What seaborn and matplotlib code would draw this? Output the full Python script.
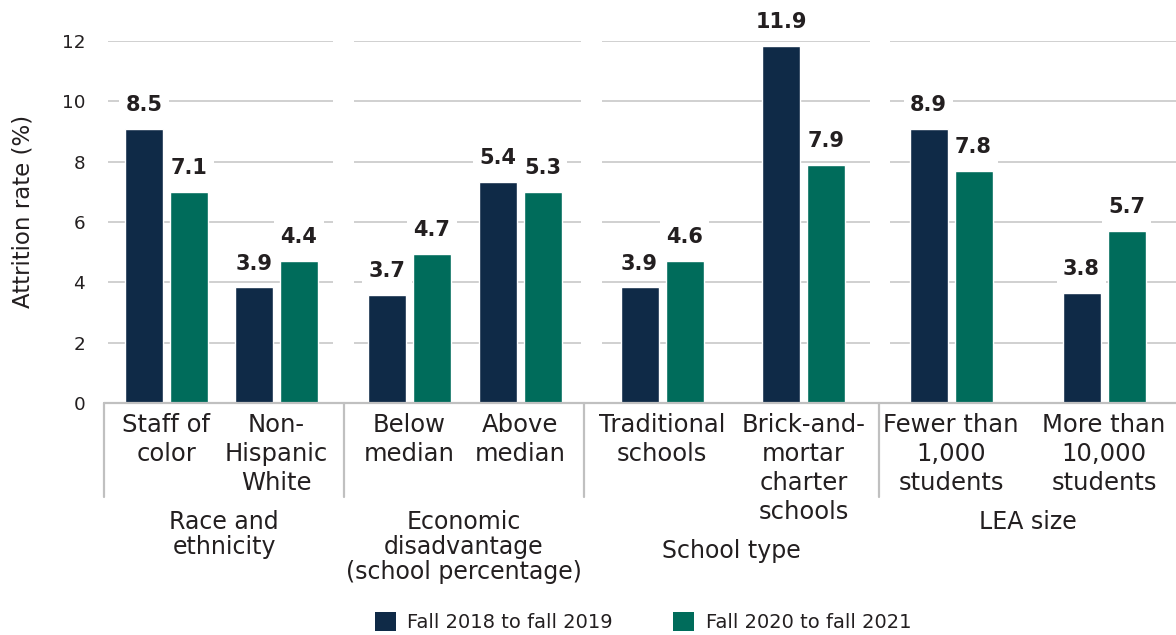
import pandas as pd
import seaborn as sns
import matplotlib.pyplot as plt
from matplotlib.lines import Line2D
from matplotlib.patches import Patch

# ==========================================
# Data
# ==========================================
groups = ["Race and\nethnicity",
          "Economic\ndisadvantage\n(school percentage)",
          "School type",
          "LEA size"]
categories = [["Staff of\ncolor", "Non-\nHispanic\nWhite"],
              ["Below\nmedian", "Above\nmedian"],
              ["Traditional\nschools", "Brick-and-\nmortar\ncharter\nschools"],
              ["Fewer than\n1,000\nstudents", "More than\n10,000\nstudents"]]
periods = ["Fall 2018 to fall 2019", "Fall 2020 to fall 2021"]

# bar heights as drawn in the picture
height_2018 = [9.08, 3.83, 3.57, 7.33, 3.83, 11.84, 9.08, 3.64]
height_2020 = [6.99, 4.70, 4.94, 6.99, 4.70, 7.89, 7.69, 5.69]
# value labels printed above the bars
label_2018 = ["8.5", "3.9", "3.7", "5.4", "3.9", "11.9", "8.9", "3.8"]
label_2020 = ["7.1", "4.4", "4.7", "5.3", "4.6", "7.9", "7.8", "5.7"]

colors = ["#0f2a47", "#006c5b"]
TEXT = "#231f20"

rows = []
flat_cats = [c for g in categories for c in g]
for i, cat in enumerate(flat_cats):
    g = groups[i // 2]
    rows.append((g, cat, periods[0], height_2018[i], label_2018[i]))
    rows.append((g, cat, periods[1], height_2020[i], label_2020[i]))
df = pd.DataFrame(rows, columns=["group", "category", "period", "value", "label"])

# ==========================================
# Layout (pixels of a 1176x635 canvas)
# ==========================================
W, H = 1176, 635
Y0, Y12 = 403, 41
axes_px = [(108, 333), (354, 581), (602, 870), (890, 1176)]
pair_px = [(166.5, 276.5), (409.5, 520), (662, 803.5), (951, 1104)]
seps_px = [104, 344, 584, 879]
BAR_PX, OFF_PX = 38, 22.5
LINE_PX = 29


def fx(x):
    return x / W


def fy(y):
    return 1 - y / H


sns.set_theme(style="white")
plt.rcParams['font.family'] = ['DejaVu Sans']

fig = plt.figure(figsize=(W / 100, H / 100), dpi=100)

for gi, group in enumerate(groups):
    L, R = axes_px[gi]
    c0, c1 = pair_px[gi]
    unit = c1 - c0
    ax = fig.add_axes([fx(L), fy(Y0), (R - L) / W, (Y0 - Y12) / H])
    sub = df[df["group"] == group]
    sns.barplot(data=sub, x="category", y="value", hue="period",
                order=categories[gi], hue_order=periods, palette=colors,
                saturation=1, width=4 * OFF_PX / unit,
                gap=1 - BAR_PX / (2 * OFF_PX), legend=False, ax=ax)
    ax.set_xlim(-(c0 - L) / unit, (R - c0) / unit)
    ax.set_ylim(0, 12)
    ax.set_yticks(range(0, 13, 2))
    ax.set_axisbelow(True)
    ax.yaxis.grid(True, color="#c4c4c4", linewidth=1.1)
    ax.xaxis.grid(False)
    for s in ax.spines.values():
        s.set_visible(False)
    ax.set_xlabel("")
    ax.set_ylabel("")
    ax.tick_params(axis="x", length=0, pad=7, labelsize=17.5, labelcolor=TEXT)
    plt.setp(ax.get_xticklabels(), linespacing=1.26)
    if gi == 0:
        ax.tick_params(axis="y", length=0, pad=16.5, labelsize=13.2, labelcolor=TEXT)
    else:
        ax.tick_params(axis="y", length=0, labelleft=False)

    for cont, per in zip(ax.containers, periods):
        labs = [sub[(sub["category"] == c) & (sub["period"] == per)]["label"].iloc[0]
                for c in categories[gi]]
        ax.bar_label(cont, labels=labs, padding=10, fontsize=15, fontweight="bold",
                     color=TEXT,
                     bbox=dict(boxstyle="square,pad=0.3", fc="white", ec="none"))

    # group label sits under the separators, or under a taller label stack
    nlines = max(3, max(c.count("\n") + 1 for c in categories[gi]))
    left_sep = seps_px[gi]
    right_sep = seps_px[gi + 1] if gi + 1 < len(seps_px) else W
    fig.text(fx((left_sep + right_sep) / 2), fy(409 + nlines * LINE_PX + 14),
             group, ha="center", va="top", fontsize=17, color=TEXT,
             linespacing=1.05)

# baseline and group separators
fig.add_artist(Line2D([fx(104), fx(W)], [fy(Y0), fy(Y0)], color="#c0c0c0",
                      linewidth=1.6, transform=fig.transFigure))
for x in seps_px:
    fig.add_artist(Line2D([fx(x), fx(x)], [fy(Y0), fy(497)], color="#c0c0c0",
                          linewidth=1.6, transform=fig.transFigure))

fig.text(fx(23), fy(211), "Attrition rate (%)", rotation=90, ha="center",
         va="center", fontsize=16.5, color=TEXT)

handles = [Patch(facecolor=c, edgecolor="none") for c in colors]
fig.legend(handles, periods, loc="center", bbox_to_anchor=(fx(643), fy(622)),
           ncol=2, frameon=False, fontsize=14, handlelength=1.08,
           handleheight=1.08, handletextpad=0.6, columnspacing=3.1,
           labelcolor=TEXT)

fig.savefig("out.png", dpi=100)
